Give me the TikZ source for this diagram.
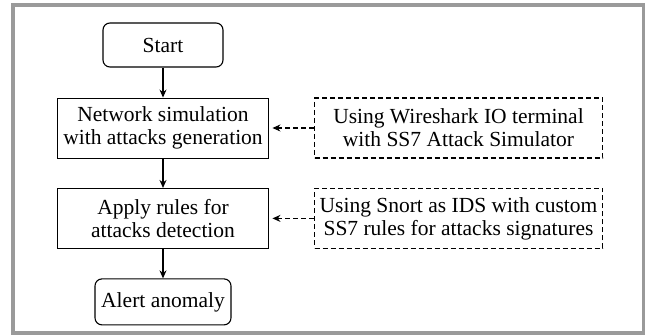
\documentclass[tikz,border=0pt]{standalone}
\usepackage{fontspec}
\setmainfont{Liberation Serif}
\usetikzlibrary{positioning,arrows.meta}
\definecolor{framegray}{HTML}{9A9A9A}
\tikzset{
  x=1pt,y=-1pt,
  node distance=29.5pt,
  >={Stealth[length=8pt,width=7pt]},
  termbox/.style args={#1,#2}{
  draw=black,
  rounded corners=7pt,
  line width=1.1pt,
  minimum width=#1 pt,
  minimum height=#2 pt,
  align=center,
  },
  procbox/.style={
  draw=black,
  line width=0.9pt,
  minimum width=211pt,
  minimum height=60pt,
  align=center,
  },
  toolbox/.style={
  procbox,
  dash pattern=on 5pt off 3pt,
  line width=1.1pt,
  minimum width=288pt,
  },
  flow/.style={->,line width=1.1pt},
  feed/.style={->,dash pattern=on 5pt off 3pt,line width=1.1pt,shorten >=3.5pt}
}
\begin{document}
\begin{tikzpicture}[font=\fontsize{21.5}{23}\selectfont]
  \useasboundingbox (0,0) rectangle (646,336);
  \draw[framegray,line width=3.5pt] (13,5) rectangle (643.5,333);

  \node [termbox={120,44}] (start) at (163,45) {Start};
  \node [procbox,below=30pt of start] (netsim) {Network simulation\\with attacks generation};
  \node [procbox,below=of netsim] (rules) {Apply rules for\\attacks detection};
  \node [termbox={136,46},below=of rules] (alert) {Alert anomaly};

  \node [toolbox,right=45pt of netsim] (wireshark) {Using Wireshark IO terminal\\with SS7 Attack Simulator};
  \node [toolbox,right=45pt of rules] (snort) {Using Snort as IDS with custom\\SS7 rules for attacks signatures};

  \draw [flow] (start) -- (netsim);
  \draw [flow] (netsim) -- (rules);
  \draw [flow] (rules) -- (alert);
  \draw [feed] (wireshark) -- (netsim);
  \draw [feed] (snort) -- (rules);
\end{tikzpicture}
\end{document}
